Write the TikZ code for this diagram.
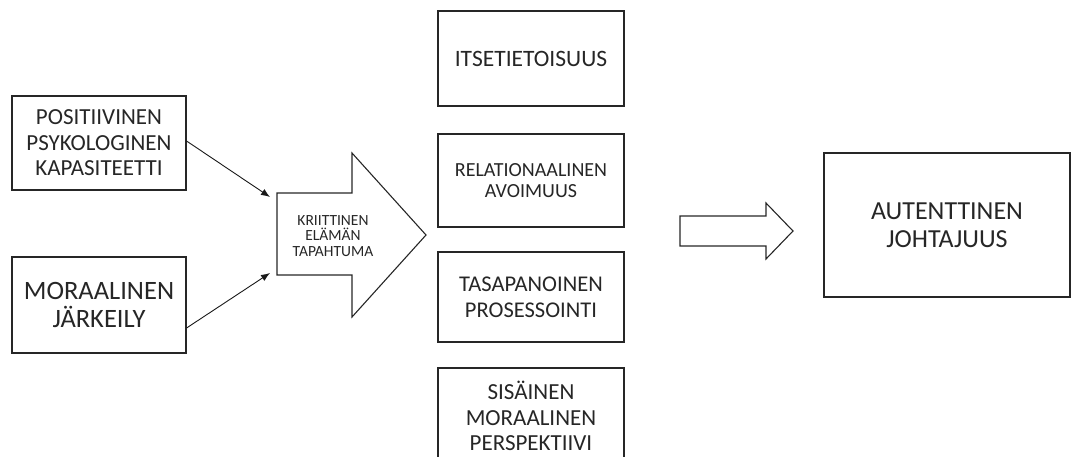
\documentclass[tikz,border=0pt]{standalone}
\usepackage{fontspec}
\setmainfont{Carlito}
\usetikzlibrary{arrows.meta}

\begin{document}
\begin{tikzpicture}[x=1pt,y=-1pt,
    box/.style={draw=black!85,line width=1.1pt,align=center,inner sep=0pt,text=black!85},
    blockarrow/.style={draw=black!85,line width=1.1pt,line join=miter},
    link/.style={line width=0.9pt,draw=black!90,-{Latex[length=9pt,width=7pt]}}]
  \useasboundingbox (0,0) rectangle (1071,456);
  \node[box,minimum width=174pt,minimum height=94pt,font=\fontsize{23}{25.5}\selectfont] (pos) at (99,143) {POSITIIVINEN\\PSYKOLOGINEN\\KAPASITEETTI};
  \node[box,minimum width=174pt,minimum height=96pt,font=\fontsize{26.5}{28}\selectfont] (mor) at (99,305) {MORAALINEN\\JÄRKEILY};
  \draw[blockarrow] (277,193) -- (352,193) -- (352,153) -- (426,235) -- (352,317) -- (352,275) -- (277,275) -- cycle;
  \node[align=center,text=black!85,inner sep=0pt,font=\fontsize{15.5}{15.5}\selectfont] (kriit) at (333,236) {KRIITTINEN\\ELÄMÄN\\TAPAHTUMA};
  \coordinate (k1) at (270,197);
  \coordinate (k2) at (270,273);
  \draw[link] ([yshift=2pt]pos.east) -- (k1);
  \draw[link] ([yshift=-23pt]mor.east) -- (k2);
  \node[box,minimum width=186pt,minimum height=95pt,font=\fontsize{23.5}{26}\selectfont] (itse) at (531,58.5) {ITSETIETOISUUS};
  \node[box,minimum width=186pt,minimum height=93pt,font=\fontsize{20}{21.5}\selectfont] (rel) at (531,180.5) {RELATIONAALINEN\\AVOIMUUS};
  \node[box,minimum width=186pt,minimum height=90pt,font=\fontsize{22.5}{26}\selectfont] (tasa) at (531,297) {TASAPANOINEN\\PROSESSOINTI};
  \node[box,minimum width=186pt,minimum height=96pt,font=\fontsize{23}{25.5}\selectfont] (sis) at (531,416) {SISÄINEN\\MORAALINEN\\PERSPEKTIIVI};
  \draw[blockarrow] (680,216) -- (766,216) -- (766,203) -- (793,231) -- (766,259) -- (766,246) -- (680,246) -- cycle;
  \node[box,minimum width=246pt,minimum height=144pt,font=\fontsize{26}{28}\selectfont] (aut) at (947,225) {AUTENTTINEN\\JOHTAJUUS};
\end{tikzpicture}
\end{document}
